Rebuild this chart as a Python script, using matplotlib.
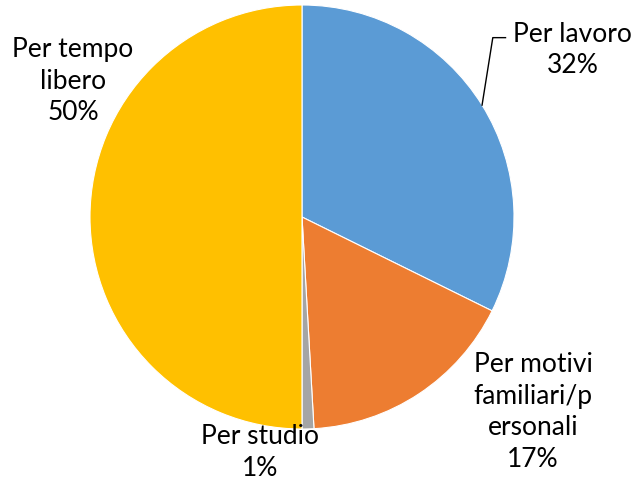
import numpy as np
import matplotlib.pyplot as plt

plt.rcParams['font.family'] = ['Lato', 'DejaVu Sans']

labels = ["Per lavoro", "Per motivi\nfamiliari/p\nersonali", "Per studio", "Per tempo\nlibero"]
values = [32.3, 16.8, 0.9, 50.0]
colors = ["#5B9BD5", "#ED7D31", "#A5A5A5", "#FFC000"]

# label centres in axes data units (pie radius = 1)
label_pos = [(1.278, 0.788), (1.09, -0.92), (-0.20, -1.11), (-1.08, 0.64)]

fig = plt.figure(figsize=(6.38, 4.86), dpi=100)
ax = fig.add_axes([90 / 638, 57 / 486, 424 / 638, 424 / 486])
wedges, _ = ax.pie(values, colors=colors, startangle=90, counterclock=False,
                   radius=1, wedgeprops=dict(edgecolor="white", linewidth=0.8))
ax.set_xlim(-1, 1)
ax.set_ylim(-1, 1)
ax.set_aspect("equal")
ax.axis("off")

total = sum(values)
for lab, v, (x, y) in zip(labels, values, label_pos):
    ax.text(x, y, f"{lab}\n{round(100 * v / total)}%", ha="center", va="center",
            fontsize=19, linespacing=1.32, color="#000000", clip_on=False)

# leader line for the first slice
w = wedges[0]
mid = np.deg2rad((w.theta1 + w.theta2) / 2)
ex, ey = np.cos(mid), np.sin(mid)
ax.plot([ex, 0.9, 0.96], [ey, 0.846, 0.846], color="black", lw=1, clip_on=False)

fig.savefig("out.png", dpi=100)
